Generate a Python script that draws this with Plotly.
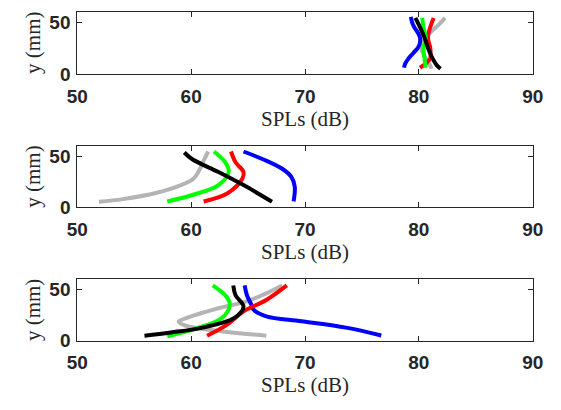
import plotly.graph_objects as go

# ---------------- data ----------------
# Panel 1 (top)
p1_blue_y = [55, 50, 45, 40, 35, 30, 25, 20, 15, 10, 6]
p1_blue_x = [79.3, 79.4, 79.6, 79.9, 80.1, 80.1, 79.9, 79.5, 79.1, 78.8, 78.7]
p1_red_y = [54, 45, 35, 25, 15, 10, 6]
p1_red_x = [81.3, 81.0, 80.8, 81.0, 81.0, 80.6, 80.1]
p1_green_y = [54, 45, 35, 25, 15, 6]
p1_green_x = [80.3, 80.4, 80.6, 80.4, 80.5, 80.6]
p1_gray_y = [54, 48, 40, 33, 28, 22, 15, 8, 5]
p1_gray_x = [82.3, 81.8, 81.0, 80.3, 80.1, 80.3, 80.6, 81.0, 81.1]
p1_black_y = [54, 45, 35, 25, 15, 8, 5]
p1_black_x = [79.7, 80.1, 80.5, 80.8, 81.2, 81.6, 81.9]

# Panel 2 (middle)
p2_blue_y = [54.6, 47, 37.7, 29.7, 20, 5.8]
p2_blue_x = [64.6, 66.3, 68.0, 68.8, 69.1, 69.0]
p2_red_y = [5.7, 13.7, 28, 34.5, 44, 54.6]
p2_red_x = [61.1, 63.2, 64.5, 64.6, 63.9, 63.5]
p2_green_y = [5.7, 12, 21.7, 34.5, 44, 54.6]
p2_green_x = [57.9, 60.1, 62.4, 63.3, 63.0, 62.0]
p2_gray_y = [5.4, 8, 13.7, 21.7, 28, 36, 45.6, 54.6]
p2_gray_x = [51.9, 54.0, 56.8, 59.1, 60.2, 60.7, 61.1, 61.5]
p2_black_y = [53.6, 47, 34.5, 21.7, 5.4]
p2_black_x = [59.4, 60.1, 62.4, 64.6, 67.1]

# Panel 3 (bottom)
p3_blue_y = [54, 44.4, 34.9, 30, 23.8, 19, 12.7, 5]
p3_blue_x = [64.7, 64.9, 65.3, 65.5, 66.6, 69.7, 73.6, 76.7]
p3_red_y = [54, 39.7, 28.6, 15.9, 4.8]
p3_red_x = [68.4, 66.6, 64.6, 63.2, 61.4]
p3_green_y = [54, 42.9, 35, 22.2, 11.1, 4.2]
p3_green_x = [61.9, 63.1, 63.4, 62.7, 60.2, 57.9]
p3_gray_y = [54, 39.7, 31.7, 22.2, 18.4, 14.3, 9.5, 4.8]
p3_gray_x = [68.0, 65.2, 62.4, 59.6, 58.9, 59.6, 62.4, 66.6]
p3_black_y = [54, 44.4, 33.3, 22.2, 12.7, 7.9, 4.8]
p3_black_x = [63.7, 63.9, 64.6, 63.8, 61.0, 58.2, 55.9]

x_ticks = [50, 60, 70, 80, 90]
y_ticks = [0, 50]
x_title = "SPLs (dB)"
y_title = "y (mm)"

colors = {"gray": "#b4b4b4", "blue": "#0000ff", "red": "#ff0000",
          "green": "#00ff00", "black": "#000000"}

panels = [
    {"gray": (p1_gray_x, p1_gray_y), "blue": (p1_blue_x, p1_blue_y),
     "red": (p1_red_x, p1_red_y), "green": (p1_green_x, p1_green_y),
     "black": (p1_black_x, p1_black_y)},
    {"gray": (p2_gray_x, p2_gray_y), "blue": (p2_blue_x, p2_blue_y),
     "red": (p2_red_x, p2_red_y), "green": (p2_green_x, p2_green_y),
     "black": (p2_black_x, p2_black_y)},
    {"gray": (p3_gray_x, p3_gray_y), "blue": (p3_blue_x, p3_blue_y),
     "red": (p3_red_x, p3_red_y), "green": (p3_green_x, p3_green_y),
     "black": (p3_black_x, p3_black_y)},
]

W, H = 561, 410
x_dom = [69 / W, 543 / W]
# pixel top / bottom of each axes box
boxes = [(12, 76), (150, 213), (287, 350)]

fig = go.Figure()
tick_font = dict(family="Liberation Sans, Arial, sans-serif", size=19,
                 color="#262626", weight="bold")
title_font = dict(family="Liberation Serif, Times New Roman, serif", size=21,
                  color="#262626")

annotations = []
for i, panel in enumerate(panels):
    n = "" if i == 0 else str(i + 1)
    xa, ya = "x" + n, "y" + n
    for name in ["gray", "blue", "red", "green", "black"]:
        xs, ys = panel[name]
        fig.add_trace(go.Scatter(x=xs, y=ys, mode="lines", xaxis=xa, yaxis=ya,
                                 line=dict(color=colors[name], width=4, shape="spline"),
                                 showlegend=False, hoverinfo="skip"))
    top, bot = boxes[i]
    ydom = [1 - bot / H, 1 - top / H]
    axis_common = dict(showline=True, linecolor="#262626", linewidth=1, mirror="ticks",
                       ticks="inside", ticklen=5, tickcolor="#262626",
                       showgrid=False, zeroline=False, tickfont=tick_font)
    fig.update_layout(**{
        "xaxis" + n: dict(domain=x_dom, range=[50, 90], tickvals=x_ticks,
                          anchor=ya, ticklabelstandoff=5, **axis_common),
        "yaxis" + n: dict(domain=ydom, range=[0, 60], tickvals=y_ticks,
                          anchor=xa, ticklabelstandoff=2, **axis_common),
    })
    annotations.append(dict(text=x_title, xref="paper", yref="paper",
                            x=(x_dom[0] + x_dom[1]) / 2, y=1 - (bot + 46) / H,
                            showarrow=False, font=title_font,
                            xanchor="center", yanchor="middle"))
    annotations.append(dict(text=y_title, xref="paper", yref="paper",
                            x=23 / W, y=1 - ((top + bot) / 2) / H, textangle=-90,
                            showarrow=False, font=title_font,
                            xanchor="center", yanchor="middle"))

fig.update_layout(width=W, height=H, margin=dict(l=0, r=0, t=0, b=0),
                  paper_bgcolor="white", plot_bgcolor="white",
                  annotations=annotations)
fig.write_html("out.html")
